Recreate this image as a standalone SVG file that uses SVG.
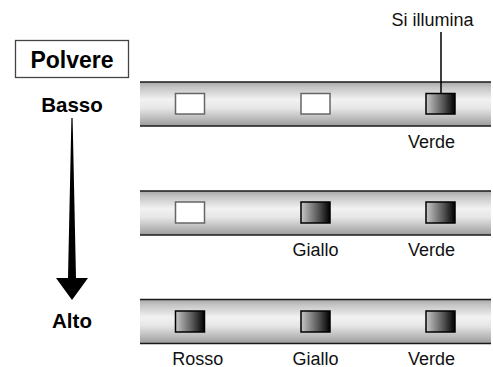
<svg xmlns="http://www.w3.org/2000/svg" width="493" height="367" viewBox="0 0 493 367">
<defs>
<linearGradient id="barG" x1="0" y1="0" x2="0" y2="1">
<stop offset="0" stop-color="#a8a8a8"/>
<stop offset="0.12" stop-color="#c4c4c4"/>
<stop offset="0.4" stop-color="#f2f2f2"/>
<stop offset="0.6" stop-color="#e6e6e6"/>
<stop offset="1" stop-color="#9c9c9c"/>
</linearGradient>
<linearGradient id="litG" x1="0" y1="0" x2="1" y2="0">
<stop offset="0" stop-color="#c8c8c8"/>
<stop offset="0.6" stop-color="#555"/>
<stop offset="1" stop-color="#000"/>
</linearGradient>
</defs>
<style>
.bar{fill:url(#barG)}
.edge{stroke:#1a1a1a;stroke-width:1.6}
.off{fill:#fff;stroke:#666;stroke-width:1.5}
.on{fill:url(#litG);stroke:#000;stroke-width:1.5}
.lbl{font-family:"Liberation Sans",Arial,sans-serif;font-size:18px;fill:#111;text-anchor:middle}
.bold{font-family:"Liberation Sans",Arial,sans-serif;font-weight:bold;fill:#000;text-anchor:middle}
</style>

<g id="polvere">
<rect x="15.5" y="40.5" width="113" height="37" fill="#fff" stroke="#444" stroke-width="1.3"/>
<text class="bold" x="72" y="67.5" font-size="23">Polvere</text>
</g>
<g id="basso"><text class="bold" x="72" y="112" font-size="20.5">Basso</text></g>
<g id="alto"><text class="bold" x="72" y="327.5" font-size="20.5">Alto</text></g>

<g id="bar1">
<rect class="bar" x="140" y="82" width="351" height="44"/>
<line class="edge" x1="140" y1="82" x2="491" y2="82"/>
<line class="edge" x1="140" y1="126" x2="491" y2="126"/>
<rect class="off" x="175.5" y="93.5" width="29" height="20.5"/>
<rect class="off" x="301" y="93.5" width="29" height="20.5"/>
<rect class="on" x="426" y="93.5" width="29" height="20.5"/>
<text class="lbl" x="431.5" y="147.5">Verde</text>
</g>

<g id="bar2">
<rect class="bar" x="140" y="191" width="351" height="44"/>
<line class="edge" x1="140" y1="191" x2="491" y2="191"/>
<line class="edge" x1="140" y1="235" x2="491" y2="235"/>
<rect class="off" x="175.5" y="202" width="29" height="21"/>
<rect class="on" x="301" y="202" width="29" height="21"/>
<rect class="on" x="426" y="202" width="29" height="21"/>
<text class="lbl" x="315.5" y="256">Giallo</text>
<text class="lbl" x="431.5" y="256">Verde</text>
</g>

<g id="bar3">
<rect class="bar" x="140" y="299.5" width="351" height="44"/>
<line class="edge" x1="140" y1="299.5" x2="491" y2="299.5"/>
<line class="edge" x1="140" y1="343.5" x2="491" y2="343.5"/>
<rect class="on" x="175.5" y="311" width="29" height="21"/>
<rect class="on" x="301" y="311" width="29" height="21"/>
<rect class="on" x="426" y="311" width="29" height="21"/>
<text class="lbl" x="197.7" y="364.5">Rosso</text>
<text class="lbl" x="315.5" y="364.5">Giallo</text>
<text class="lbl" x="431.5" y="364.5">Verde</text>
</g>

<g id="callout">
<text class="lbl" x="432.5" y="26" font-size="20">Si illumina</text>
</g>

<g id="connectors">
<line x1="441" y1="32" x2="441" y2="93.5" stroke="#000" stroke-width="1.5"/>
<polygon points="71.4,118 72.6,118 76,278 88,278 72,300 56,278 68,278" fill="#000"/>
</g>
</svg>
